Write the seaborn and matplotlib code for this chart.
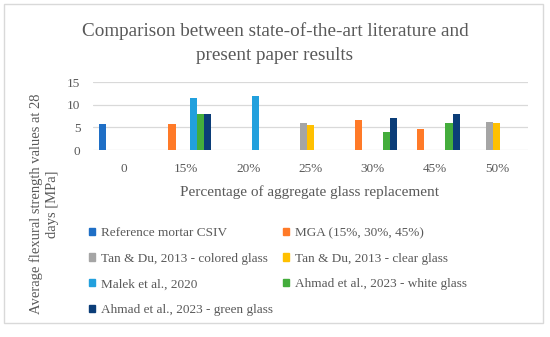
import matplotlib
matplotlib.use("Agg")
import matplotlib.pyplot as plt
import matplotlib.patches as mpatches
import seaborn as sns
import pandas as pd
import numpy as np

categories = ["0", "15%", "20%", "25%", "30%", "45%", "50%"]
series = ["Reference mortar CSIV", "MGA (15%, 30%, 45%)",
          "Tan & Du, 2013 - colored glass", "Tan & Du, 2013 - clear glass",
          "Malek et al., 2020", "Ahmad et al., 2023 - white glass",
          "Ahmad et al., 2023 - green glass"]
colors = ["#1F6FC6", "#FF7A28", "#A5A5A5", "#FFC000", "#22A0DD", "#44AD3C", "#0B3D78"]

ref_vals = [5.7, None, None, None, None, None, None]
mga_vals = [None, 5.7, None, None, 6.55, 4.65, None]
tan_col_vals = [None, None, None, 6.0, None, None, 6.2]
tan_clr_vals = [None, None, None, 5.45, None, None, 5.9]
malek_vals = [None, 11.55, 12.0, None, None, None, None]
ahmad_w_vals = [None, 8.0, None, None, 4.0, 6.0, None]
ahmad_g_vals = [None, 8.0, None, None, 7.0, 8.0, None]

all_vals = [ref_vals, mga_vals, tan_col_vals, tan_clr_vals, malek_vals, ahmad_w_vals, ahmad_g_vals]
rows = []
for s, vals in zip(series, all_vals):
    for c, v in zip(categories, vals):
        if v is not None:
            rows.append({"cat": c, "series": s, "value": v})
df = pd.DataFrame(rows)

sns.set_style("white")
plt.rcParams["font.family"] = ["Liberation Serif", "DejaVu Serif"]
txt = "#595959"

fig = plt.figure(figsize=(5.5, 3.37), dpi=100)
ax = fig.add_axes([93/550, 1-150/337, (528-93)/550, (150-82)/337])

sns.barplot(data=df, x="cat", y="value", hue="series", order=categories,
            hue_order=series, palette=colors, errorbar=None, ax=ax,
            width=0.8, legend=False, saturation=1, linewidth=0, edgecolor="none")

ax.set_ylim(0, 15)
ax.set_yticks([0, 5, 10, 15])
ax.set_xlim(-0.5, len(categories)-0.5)
ax.yaxis.grid(True, color="#D9D9D9", lw=0.9)
ax.set_axisbelow(True)
for sp in ax.spines.values():
    sp.set_visible(False)
ax.tick_params(axis="both", length=0, labelsize=9.5, colors=txt)
ax.tick_params(axis="x", pad=9)
ax.tick_params(axis="y", pad=9)
ax.set_xlabel("")
ax.set_ylabel("")

fig.text(275/550, 1-43/337, "Comparison between state-of-the-art literature and\npresent paper results",
         ha="center", va="center", fontsize=13.8, color=txt, linespacing=1.5)
fig.text(310/550, 1-192/337, "Percentage of aggregate glass replacement",
         ha="center", va="center", fontsize=11, color=txt)
fig.text(44/550, 1-204/337, "Average flexural strength values at 28\ndays [MPa]",
         ha="center", va="center", rotation=90, fontsize=10.5, color=txt,
         linespacing=1.35, multialignment="center")

handles = [mpatches.Patch(color=c, label=s) for s, c in zip(series, colors)]
order = [0, 2, 4, 6, 1, 3, 5]
leg = fig.legend([handles[i] for i in order], [series[i] for i in order],
                 loc="upper left", bbox_to_anchor=(89/550, 1-227/337), ncol=2,
                 frameon=False, fontsize=9.5, handlelength=0.45, handleheight=0.45,
                 handletextpad=0.45, labelspacing=1.04, columnspacing=0.75,
                 borderaxespad=0, borderpad=0)
for t in leg.get_texts():
    t.set_color(txt)

fig.patches.append(mpatches.Rectangle((4/550, 1-323/337), 539/550, 319/337,
                                      transform=fig.transFigure, fill=False,
                                      edgecolor="#D9D9D9", lw=1))

fig.savefig("out.png", dpi=100)
